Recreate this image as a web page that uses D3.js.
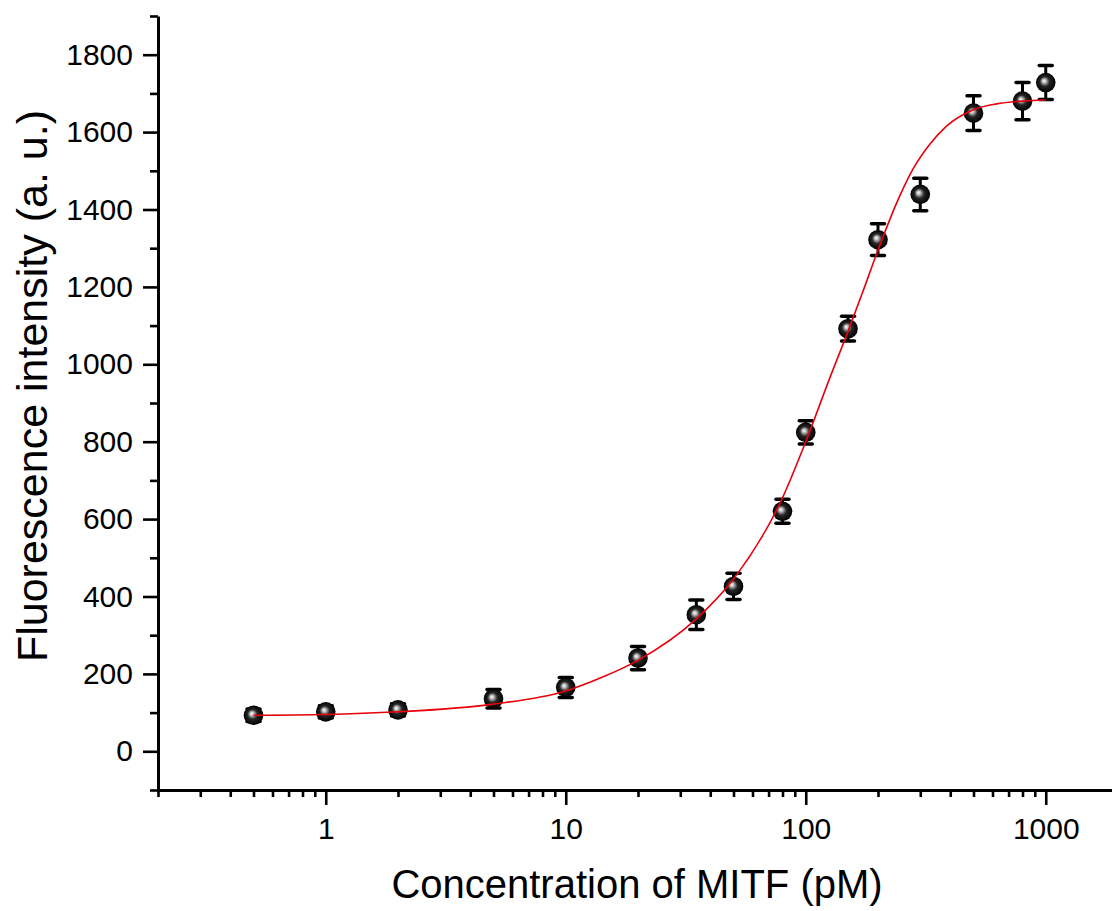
<!DOCTYPE html>
<html lang="en">
<head>
  <meta charset="UTF-8">
  <title>Fluorescence intensity vs. MITF concentration</title>
  <script src="https://d3js.org/d3.v7.min.js"></script>
  <style>
    body {
      margin: 0;
      background: #fff;
    }
    svg {
      display: block;
      font-family: "Liberation Sans", Arial, sans-serif;
    }
  </style>
</head>
<body>
  <svg id="chart" width="1112" height="911"></svg>

  <script>
    // Measured points (concentration in pM, mean intensity, error bar half-height).
    const conc = [0.5, 1, 2, 5, 10, 20, 35, 50, 80, 100, 150, 200, 300, 500, 800, 1000];
    const intensity = [93, 102, 107, 136, 165, 241, 353, 426, 620, 824, 1092, 1322, 1439, 1649, 1680, 1728];
    const errors = [16, 16, 16, 24, 26, 30, 38, 34, 31, 30, 32, 41, 42, 45, 48, 44];

    // Fitted curve.
    const fitConc = [0.5, 1, 2, 5, 10, 14, 20, 35, 50, 80, 100, 126, 150, 173, 200, 240, 280, 330, 385, 500, 623, 800, 1000];
    const fitIntensity = [93, 95, 102, 122, 156, 190, 235, 342, 445, 655, 800, 965, 1085, 1188, 1295, 1419, 1505, 1570, 1615, 1658, 1673, 1680, 1683];

    // Tick labels.
    const yTicks = [0, 200, 400, 600, 800, 1000, 1200, 1400, 1600, 1800];
    const xTicks = [1, 10, 100, 1000];

    const svg = d3.select("#chart");

    // Scales: log x axis from 0.2 to 2000 pM, linear y from -100 to 1900.
    const x = d3.scaleLog().domain([0.2, 2000]).range([158, 1118]);
    const y = d3.scaleLinear().domain([-100, 1900]).range([790, 16]);

    // minor ticks
    const yMinor = d3.range(-100, 1901, 200);
    const xMinor = [];
    [0.1, 1, 10, 100, 1000].forEach(dec => {
      for (let k = 2; k <= 9; k++) {
        const v = dec * k;
        if (v >= 0.2 && v <= 2000) xMinor.push(v);
      }
    });

    // --------------------------
    // Gradient for the ball markers
    // --------------------------
    const defs = svg.append("defs");
    const grad = defs.append("radialGradient")
      .attr("id", "ball")
      .attr("cx", "50%").attr("cy", "50%").attr("r", "50%")
      .attr("fx", "40%").attr("fy", "40%");
    grad.append("stop").attr("offset", "0%").attr("stop-color", "#ffffff");
    grad.append("stop").attr("offset", "18%").attr("stop-color", "#c4c4c4");
    grad.append("stop").attr("offset", "50%").attr("stop-color", "#262626");
    grad.append("stop").attr("offset", "100%").attr("stop-color", "#000000");

    // --------------------------
    // Axes
    // --------------------------
    svg.append("g")
      .attr("transform", "translate(158,0)")
      .call(d3.axisLeft(y).tickValues(yTicks).tickSize(15).tickSizeOuter(0).tickPadding(10)
        .tickFormat(d3.format("d")));
    svg.append("g")
      .attr("transform", "translate(158,0)")
      .call(d3.axisLeft(y).tickValues(yMinor).tickSize(8).tickSizeOuter(0).tickFormat(""))
      .select(".domain").remove();

    svg.append("g")
      .attr("transform", "translate(0,790)")
      .call(d3.axisBottom(x).tickValues(xTicks).tickSize(15).tickSizeOuter(0).tickPadding(13)
        .tickFormat(d3.format("d")));
    svg.append("g")
      .attr("transform", "translate(0,790)")
      .call(d3.axisBottom(x).tickValues(xMinor).tickSize(7).tickSizeOuter(0).tickFormat(""))
      .select(".domain").remove();

    svg.selectAll(".domain").attr("stroke", "#000").attr("stroke-width", 3);
    svg.selectAll(".tick line").attr("stroke", "#000").attr("stroke-width", 2.6);
    svg.selectAll(".tick text")
      .attr("fill", "#000")
      .style("font-size", "30px")
      .style("font-family", "'Liberation Sans', Arial, sans-serif");

    // Axis titles
    svg.append("text")
      .attr("x", 637)
      .attr("y", 898)
      .attr("text-anchor", "middle")
      .style("font-size", "40px")
      .text("Concentration of MITF (pM)");

    svg.append("text")
      .attr("transform", "translate(47,386) rotate(-90)")
      .attr("text-anchor", "middle")
      .style("font-size", "43px")
      .text("Fluorescence intensity (a. u.)");

    // --------------------------
    // Error bars
    // --------------------------
    const points = conc.map((c, i) => ({ c: c, v: intensity[i], e: errors[i] }));
    const bars = svg.append("g").attr("class", "errorbars");
    bars.selectAll(".stem")
      .data(points)
      .enter()
      .append("line")
      .attr("x1", d => x(d.c)).attr("x2", d => x(d.c))
      .attr("y1", d => y(d.v - d.e)).attr("y2", d => y(d.v + d.e))
      .attr("stroke", "#000").attr("stroke-width", 3);
    ["top", "bottom"].forEach(side => {
      bars.selectAll(".cap-" + side)
        .data(points)
        .enter()
        .append("line")
        .attr("x1", d => x(d.c) - 6.5).attr("x2", d => x(d.c) + 6.5)
        .attr("y1", d => y(side === "top" ? d.v + d.e : d.v - d.e))
        .attr("y2", d => y(side === "top" ? d.v + d.e : d.v - d.e))
        .attr("stroke", "#000").attr("stroke-width", 3.5)
        .attr("stroke-linecap", "round");
    });

    // --------------------------
    // Markers
    // --------------------------
    svg.append("g").selectAll("circle")
      .data(points)
      .enter()
      .append("circle")
      .attr("cx", d => x(d.c))
      .attr("cy", d => y(d.v))
      .attr("r", 9.8)
      .attr("fill", "url(#ball)");

    // --------------------------
    // Fit curve (red)
    // --------------------------
    const fit = fitConc.map((c, i) => ({ c: c, v: fitIntensity[i] }));
    svg.append("path")
      .datum(fit)
      .attr("fill", "none")
      .attr("stroke", "#e8000b")
      .attr("stroke-width", 1.6)
      .attr("d", d3.line()
        .x(d => x(d.c))
        .y(d => y(d.v))
        .curve(d3.curveMonotoneX));
  </script>
</body>
</html>
